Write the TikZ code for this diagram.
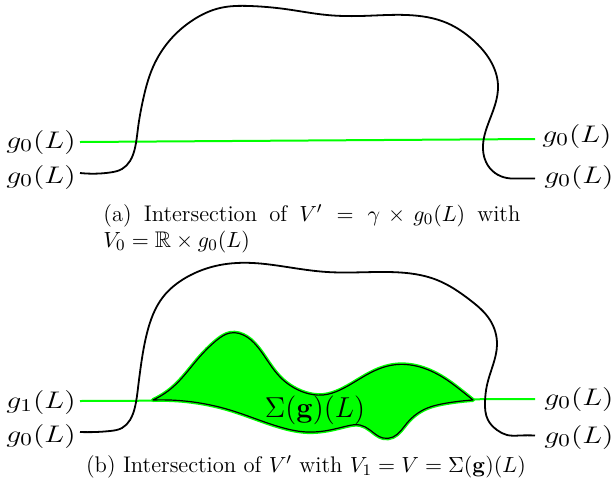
\documentclass[tikz,border=0pt]{standalone}
\usepackage{amsmath,amssymb}
\usetikzlibrary{hobby}
\begin{document}
\begin{tikzpicture}[x=0.5pt,y=-0.5pt,use Hobby shortcut,
  curve/.style={line width=0.9pt,black},
  gline/.style={line width=1pt,color=green},
  lab/.style={inner sep=0pt,font=\fontsize{12.5}{14}\selectfont},
  captext/.style={inner sep=0pt,font=\fontsize{11.3}{13}\selectfont}]
\useasboundingbox (0,0) rectangle (611,488);
% ---------- (a)
\coordinate (gaL) at (80,142);
\coordinate (gaR) at (535,139);
\draw[gline] (gaL) -- (gaR);
\draw[curve] (80,173) .. (110,172.5) .. (122,169) .. (130,161) .. (135,148) .. (138,128) .. (143,100) .. (153,67) .. (170,40) .. (193,20) .. (220,8) .. (250,6) .. (285,9) .. (327,15) .. (360,16) .. (407,15) .. (447,23) .. (473,40) .. (490,60) .. (498,85) .. (495,105) .. (487,127) .. (483,145) .. (486,162) .. (495,173) .. (507,178) .. (520,178.5) .. (535,178.5);
\node[lab,anchor=east] (la1) at (76,142) {\scalebox{1.24}[1]{$g_0(L)$}};
\node[lab,anchor=east] (la2) at (76,177) {\scalebox{1.24}[1]{$g_0(L)$}};
\node[lab,anchor=west] (ra1) at (542,136) {\scalebox{1.24}[1]{$g_0(L)$}};
\node[lab,anchor=west] (ra2) at (544,177) {\scalebox{1.24}[1]{$g_0(L)$}};
\node[captext,anchor=north west,align=left] (capa) at (103,204)
  {\makebox[208.5pt][s]{(a) Intersection of $V' = \gamma\times g_0(L)$ with}\\ $V_0=\mathbb{R}\times g_0(L)$};
% ---------- (b)
\coordinate (gbL) at (80,401);
\coordinate (gbR) at (535,399);
\draw[gline] (gbL) -- (gbR);
\draw[curve] (80,432) .. (110,431) .. (122,428) .. (130,420) .. (135,407) .. (138,388) .. (141,365) .. (147,333) .. (163,297) .. (187,277) .. (220,265) .. (253,263) .. (287,267) .. (327,272) .. (387,272) .. (437,280) .. (470,300) .. (490,320) .. (497,345) .. (493,365) .. (487,385) .. (485,402) .. (488,420) .. (497,430) .. (507,435) .. (520,435.5) .. (535,435.5);
\def\blob{(153,400) .. (173,387) .. (197,360) .. (217,340) .. (230,333) .. (247,337) .. (260,350) .. (280,377) .. (303,392) .. (323,395) .. (340,390) .. (370,373) .. (393,365) .. (420,367) .. (447,380) .. (463,392) .. (473,400) -- (473,400) .. (447,403) .. (423,410) .. (407,423) .. (393,437) .. (383,438) .. (370,430) .. (360,425) .. (347,426) .. (330,430) .. (307,432) .. (280,427) .. (230,410) .. (153,400) -- cycle}
\path[fill=green,draw=green,line width=2pt,line join=round] \blob;
\draw[black,line width=0.6pt,line join=round] \blob;
\node[lab,font=\fontsize{14}{16}\selectfont] (sig) at (315,410) {$\Sigma(\mathbf{g})(L)$};
\node[lab,anchor=east] (lb1) at (76,402) {\scalebox{1.24}[1]{$g_1(L)$}};
\node[lab,anchor=east] (lb2) at (76,436) {\scalebox{1.24}[1]{$g_0(L)$}};
\node[lab,anchor=west] (rb1) at (544,399) {\scalebox{1.24}[1]{$g_0(L)$}};
\node[lab,anchor=west] (rb2) at (544,437) {\scalebox{1.24}[1]{$g_0(L)$}};
\node[captext] (capb) at (306,467) {(b) Intersection of $V'$ with $V_1=V=\Sigma(\mathbf{g})(L)$};
\end{tikzpicture}
\end{document}
